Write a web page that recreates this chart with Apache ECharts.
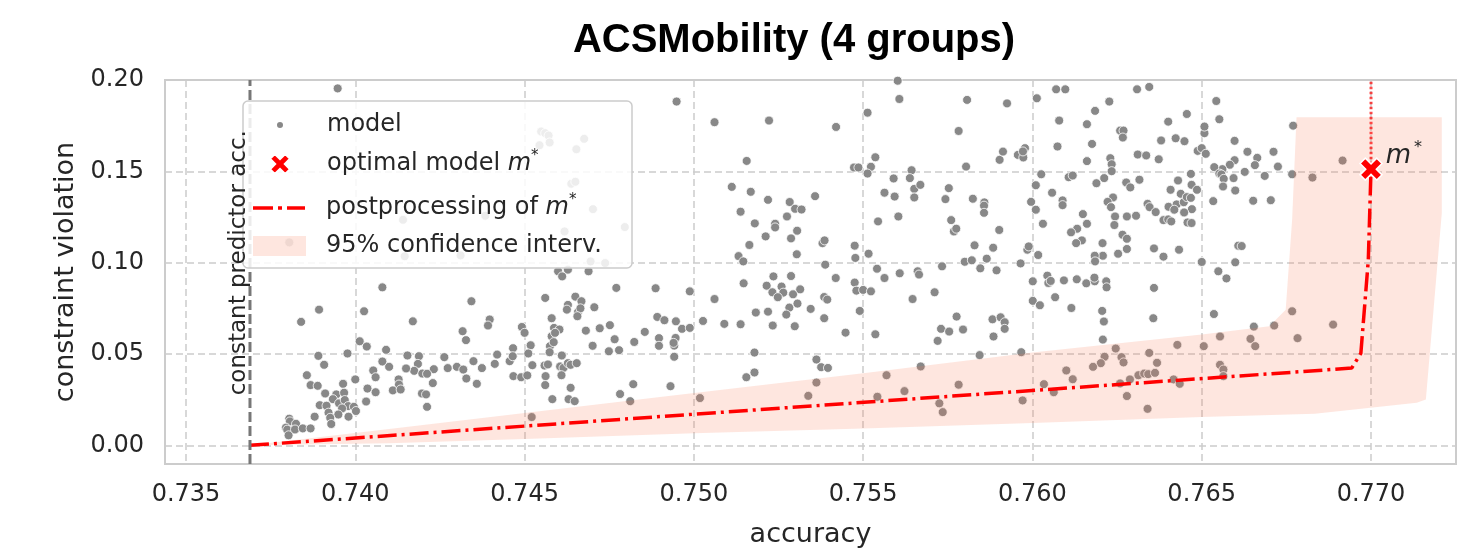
<!DOCTYPE html>
<html><head><meta charset="utf-8">
<script src="https://cdn.jsdelivr.net/npm/echarts@6/dist/echarts.min.js"></script>
<style>html,body{margin:0;padding:0;background:#fff}#c{width:1481px;height:549px}</style>
</head><body><div id="c"></div><script>
// ---------- data ----------
const titleText = 'ACSMobility (4 groups)';
const xName = 'accuracy';
const yName = 'constraint violation';
const xMin = 0.73438, xMax = 0.77251, yMin = -0.0102, yMax = 0.2;
const xTickStep = 0.005, yTickStep = 0.05;

// scattered models: [accuracy, constraint violation]
const modelPoints = [
[0.73948,0.1954],[0.74141,0.1235],[0.73805,0.1111],[0.74146,0.1035],
[0.74080,0.0865],[0.73893,0.0743],[0.74026,0.0734],[0.73840,0.0676],[0.74170,0.0679],[0.74013,0.0570],[0.74034,0.0541],[0.74091,0.0523],[0.73891,0.0490],[0.73977,0.0503],[0.74154,0.0492],[0.74188,0.0488],[0.74080,0.0459],[0.73908,0.0441],[0.74100,0.0430],[0.74185,0.0446],[0.74174,0.0408],[0.74150,0.0421],[0.74198,0.0393],[0.74053,0.0410],[0.73857,0.0384],[0.73868,0.0330],[0.73889,0.0326],[0.74060,0.0373],[0.74128,0.0361],[0.74129,0.0333],[0.74000,0.0361],[0.73964,0.0337],[0.74036,0.0311],[0.74060,0.0291],[0.74111,0.0301],[0.74134,0.0306],[0.74197,0.0284],[0.73911,0.0284],[0.73944,0.0279],[0.73967,0.0288],[0.73934,0.0253],[0.73952,0.0230],[0.73969,0.0248],[0.73895,0.0220],[0.73915,0.0217],[0.73979,0.0215],[0.73996,0.0211],[0.74032,0.0240],[0.74002,0.0188],[0.73961,0.0202],[0.73880,0.0157],[0.73921,0.0179],[0.73950,0.0169],[0.73980,0.0157],[0.73926,0.0151],[0.73929,0.0117],[0.73805,0.0146],[0.73807,0.0131],[0.73795,0.0097],[0.73799,0.0086],[0.73803,0.0055],[0.73825,0.0118],[0.73822,0.0087],[0.73845,0.0093],[0.73868,0.0093],
[0.74949,0.1882],[0.74549,0.1718],[0.74561,0.1709],[0.74571,0.1696],[0.74574,0.1658],[0.74544,0.1643],[0.74676,0.1678],[0.74653,0.1621],[0.74638,0.1432],[0.74650,0.1443],[0.74702,0.1293],[0.74796,0.1195],[0.74311,0.1040],[0.74384,0.1257],[0.74618,0.1171],
[0.74599,0.0953],[0.74628,0.0962],[0.74611,0.0925],[0.74689,0.0953],[0.74738,0.0998],[0.74695,0.1007],[0.74771,0.0862],[0.74887,0.0860],[0.74343,0.0789],[0.74561,0.0807],[0.74650,0.0814],[0.74668,0.0789],[0.74628,0.0769],[0.74625,0.0743],[0.74658,0.0730],[0.74665,0.0750],[0.74656,0.0707],[0.74706,0.0756],[0.74397,0.0689],[0.74392,0.0656],[0.74580,0.0696],[0.74587,0.0643],[0.74603,0.0634],[0.74580,0.0597],[0.74590,0.0616],[0.74575,0.0543],[0.74586,0.0565],[0.74574,0.0510],[0.74492,0.0648],[0.74500,0.0616],[0.74518,0.0548],[0.74511,0.0503],[0.74523,0.0439],[0.74317,0.0625],[0.74327,0.0576],[0.74681,0.0628],[0.74722,0.0641],[0.74752,0.0658],[0.74701,0.0545],[0.74766,0.0581],[0.74749,0.0515],[0.74779,0.0521],[0.74824,0.0566],[0.74855,0.0621],[0.74892,0.0703],[0.74913,0.0685],[0.74947,0.0679],[0.74965,0.0638],[0.74946,0.0588],[0.74897,0.0587],[0.74897,0.0545],[0.74942,0.0546],[0.74940,0.0561],[0.74942,0.0485],[0.74466,0.0532],[0.74456,0.0461],[0.74465,0.0488],[0.74419,0.0497],[0.74412,0.0446],[0.74263,0.0483],[0.74273,0.0423],[0.74300,0.0430],[0.74319,0.0415],[0.74349,0.0461],[0.74374,0.0423],[0.74232,0.0417],[0.74212,0.0392],[0.74229,0.0341],[0.74328,0.0366],[0.74359,0.0337],[0.74209,0.0279],[0.74212,0.0211],[0.74610,0.0492],[0.74605,0.0432],[0.74615,0.0424],[0.74628,0.0450],[0.74636,0.0441],[0.74654,0.0450],[0.74559,0.0437],[0.74569,0.0443],[0.74562,0.0379],[0.74561,0.0330],[0.74609,0.0384],[0.74467,0.0379],[0.74490,0.0373],[0.74508,0.0383],[0.74636,0.0315],[0.74582,0.0253],[0.74630,0.0253],[0.74648,0.0242],[0.74782,0.0281],[0.74821,0.0335],[0.74812,0.0242],[0.74931,0.0324],[0.74521,0.0155],
[0.75061,0.1769],[0.75222,0.1778],[0.75420,0.1743],[0.75513,0.1821],[0.75607,0.1896],[0.75602,0.1996],[0.75156,0.1557],[0.75473,0.1521],[0.75486,0.1521],[0.75523,0.1525],[0.75536,0.1577],[0.75513,0.1488],[0.75643,0.1506],[0.75590,0.1461],[0.75638,0.1463],[0.75651,0.1404],[0.75669,0.1426],[0.75651,0.1357],[0.75563,0.1383],[0.75593,0.1362],[0.75604,0.1253],[0.75544,0.1226],[0.75112,0.1415],[0.75168,0.1388],[0.75219,0.1344],[0.75283,0.1332],[0.75299,0.1295],[0.75318,0.1291],[0.75358,0.1364],[0.75275,0.1253],[0.75138,0.1279],[0.75180,0.1215],[0.75240,0.1213],[0.75240,0.1193],[0.75305,0.1175],[0.75212,0.1144],[0.75287,0.1133],[0.75164,0.1097],[0.75304,0.1046],[0.75380,0.1107],[0.75386,0.1122],[0.75132,0.1036],[0.75146,0.1007],[0.75475,0.1093],[0.75477,0.1026],[0.75516,0.1049],[0.75388,0.0989],[0.75419,0.0916],[0.75541,0.0967],[0.75563,0.0916],[0.75608,0.0942],[0.75661,0.0953],[0.75665,0.0935],[0.75733,0.0980],[0.75711,0.0838],[0.75646,0.0801],[0.74988,0.0843],[0.75061,0.0801],[0.75027,0.0681],[0.74988,0.0643],[0.75090,0.0665],[0.75138,0.0663],[0.75183,0.0727],[0.75147,0.0887],[0.75215,0.0874],[0.75235,0.0925],[0.75232,0.0838],[0.75259,0.0869],[0.75264,0.0836],[0.75248,0.0811],[0.75287,0.0927],[0.75293,0.0827],[0.75314,0.0854],[0.75282,0.0754],[0.75306,0.0776],[0.75273,0.0716],[0.75219,0.0732],[0.75233,0.0656],[0.75298,0.0652],[0.75345,0.0747],[0.75385,0.0812],[0.75394,0.0798],[0.75385,0.0696],[0.75475,0.0891],[0.75480,0.0847],[0.75500,0.0851],[0.75523,0.0843],[0.75490,0.0736],[0.75448,0.0617],[0.75536,0.0608],[0.75720,0.0572],[0.75730,0.0638],[0.75179,0.0508],[0.75155,0.0373],[0.75179,0.0399],[0.75362,0.0470],[0.75376,0.0428],[0.75396,0.0424],[0.75362,0.0344],[0.75338,0.0271],[0.75018,0.0259],[0.75569,0.0384],[0.75542,0.0266],[0.75622,0.0297],[0.75670,0.0432],[0.75725,0.0230],[0.75735,0.0182],
[0.75807,0.1891],[0.75925,0.1872],[0.75782,0.1721],[0.75804,0.1526],[0.76013,0.1900],[0.76070,0.1949],[0.76097,0.1949],[0.76079,0.1778],[0.76185,0.1831],[0.76227,0.1882],[0.76161,0.1758],[0.76176,0.1650],[0.76074,0.1636],[0.76161,0.1556],[0.76230,0.1572],[0.76234,0.1539],[0.76259,0.1723],[0.76269,0.1723],[0.76267,0.1685],[0.76234,0.1501],[0.76309,0.1949],[0.76345,0.1962],[0.76456,0.1814],[0.76401,0.1772],[0.76423,0.1681],[0.76449,0.1665],[0.76380,0.1669],[0.76311,0.1592],[0.76336,0.1587],[0.76373,0.1566],[0.76488,0.1612],[0.76500,0.1627],[0.76508,0.1709],[0.76508,0.1745],[0.75903,0.1563],[0.75913,0.1608],[0.75957,0.1590],[0.75973,0.1576],[0.75978,0.1627],[0.75972,0.1609],[0.76026,0.1484],[0.76010,0.1424],[0.76107,0.1468],[0.76119,0.1477],[0.76189,0.1435],[0.76212,0.1463],[0.76058,0.1383],[0.76089,0.1341],[0.76089,0.1315],[0.75996,0.1333],[0.76010,0.1290],[0.76031,0.1213],[0.76277,0.1439],[0.76289,0.1412],[0.76316,0.1454],[0.76238,0.1357],[0.76222,0.1333],[0.76232,0.1304],[0.76244,0.1253],[0.76242,0.1206],[0.76279,0.1253],[0.76306,0.1257],[0.76266,0.1153],[0.76279,0.1131],[0.76279,0.1075],[0.76253,0.1049],[0.76207,0.1107],[0.76208,0.1038],[0.76184,0.1038],[0.76185,0.1007],[0.76149,0.1266],[0.76161,0.1213],[0.76132,0.1186],[0.76114,0.1166],[0.76146,0.1122],[0.76129,0.1107],[0.76340,0.1322],[0.76346,0.1304],[0.76364,0.1277],[0.76387,0.1233],[0.76401,0.1237],[0.76410,0.1226],[0.76402,0.1306],[0.76408,0.1399],[0.76426,0.1319],[0.76419,0.1290],[0.76430,0.1450],[0.76438,0.1377],[0.76447,0.1331],[0.76456,0.1359],[0.76468,0.1355],[0.76470,0.1426],[0.76468,0.1486],[0.76471,0.1293],[0.76448,0.1275],[0.76458,0.1220],[0.76470,0.1217],[0.76486,0.1399],[0.76359,0.1078],[0.76387,0.1033],[0.76433,0.1071],[0.76500,0.1004],[0.75753,0.1408],[0.75743,0.1348],[0.75824,0.1350],[0.75858,0.1330],[0.75857,0.1312],[0.75857,0.1273],[0.75760,0.1233],[0.75768,0.1171],[0.75775,0.1186],[0.75902,0.1179],[0.75829,0.1095],[0.75884,0.1082],[0.75865,0.1022],[0.75985,0.1071],[0.75989,0.1089],[0.76017,0.1042],[0.75965,0.0996],[0.75800,0.1005],[0.75821,0.1013],[0.75846,0.0969],[0.75894,0.0958],[0.76001,0.0898],[0.76044,0.0929],[0.76047,0.0889],[0.76054,0.0900],[0.76093,0.0903],[0.76131,0.0909],[0.76159,0.0887],[0.76184,0.0898],[0.76183,0.0918],[0.76218,0.0898],[0.76219,0.0865],[0.76359,0.0862],[0.76067,0.0811],[0.76001,0.0791],[0.76022,0.0767],[0.76115,0.0752],[0.76206,0.0736],[0.76211,0.0678],[0.76208,0.0579],[0.76357,0.0696],[0.75776,0.0705],[0.75754,0.0623],[0.75795,0.0634],[0.75882,0.0690],[0.75906,0.0701],[0.75918,0.0674],[0.75918,0.0638],[0.75885,0.0596],[0.75844,0.0494],[0.75967,0.0510],[0.76246,0.0530],[0.76213,0.0485],[0.76263,0.0483],[0.76269,0.0454],[0.76202,0.0450],[0.76179,0.0430],[0.76100,0.0410],[0.76119,0.0362],[0.76034,0.0335],[0.76063,0.0291],[0.75971,0.0246],[0.75782,0.0332],[0.76259,0.0339],[0.76288,0.0361],[0.76313,0.0384],[0.76330,0.0393],[0.76342,0.0390],[0.76362,0.0397],[0.76368,0.0452],[0.76345,0.0506],[0.76279,0.0270],[0.76340,0.0200],[0.76417,0.0361],[0.76435,0.0337],[0.76428,0.0550],[0.76506,0.0543],
[0.76512,0.1596],[0.76543,0.1885],[0.76552,0.1785],[0.76597,0.1667],[0.76635,0.1607],[0.76664,0.1574],[0.76712,0.1607],[0.76597,0.1561],[0.76583,0.1536],[0.76561,0.1512],[0.76537,0.1523],[0.76552,0.1488],[0.76558,0.1483],[0.76565,0.1459],[0.76594,0.1463],[0.76627,0.1497],[0.76657,0.1534],[0.76725,0.1526],[0.76686,0.1475],[0.76767,0.1484],[0.76770,0.1750],[0.76827,0.1466],[0.76916,0.1559],[0.76563,0.1417],[0.76599,0.1395],[0.76534,0.1337],[0.76652,0.1339],[0.76704,0.1342],[0.76608,0.1093],[0.76618,0.1091],[0.76599,0.1002],[0.76549,0.0953],[0.76573,0.0914],[0.76536,0.0719],[0.76767,0.0734],[0.76714,0.0656],[0.76654,0.0650],[0.76888,0.0661],[0.76554,0.0596],[0.76644,0.0583],[0.76658,0.0543],[0.76783,0.0587],[0.76554,0.0441],[0.76564,0.0415],[0.76564,0.0379]
];

// postprocessing curve of m*
const postAccuracy  = [0.73689, 0.76943, 0.76970, 0.76992, 0.77000];
const postViolation = [0.0000,  0.0423,  0.0504,  0.1014,  0.1512];
// optimal model m*
const mStar = [0.77000, 0.1512];
// 95% confidence region boundary (polygon, clockwise)
const ciAccuracy  = [0.73689,0.7410,0.7450,0.7490,0.7550,0.7600,0.7650,0.7670,0.76748,0.76767,0.76780,0.77209,0.77209,0.77162,0.77135,0.76834,0.7650,0.7600,0.7550,0.7500,0.7450,0.7410];
const ciViolation = [0.0000, 0.0090,0.0177,0.0265,0.0395,0.0508,0.0607,0.0652,0.0743, 0.1235, 0.1796, 0.1796, 0.1271, 0.0251, 0.0233, 0.0173, 0.0155,0.0122,0.0093,0.0066,0.0035,0.0012];
// constant predictor accuracy
const constAcc = 0.73689;
const constLabelViol = 0.100;

// ---------- styles ----------
const FONT = 'DejaVu Sans';
const TXT = '#262626';
const bandColor = 'rgba(248,120,85,0.19)';
const xPath = 'path://M2.4,0 L5,2.6 L7.6,0 L10,2.4 L7.4,5 L10,7.6 L7.6,10 L5,7.4 L2.4,10 L0,7.6 L2.6,5 L0,2.4 Z';
const dashDotPath = 'path://M0,0 H20 V3.5 H0 Z M25,0 H29 V3.5 H25 Z M34,0 H52 V3.5 H34 Z';
const onTick = (v, s) => Math.abs(v / s - Math.round(v / s)) < 1e-6;

const postLine = postAccuracy.map((a, i) => [a, postViolation[i]]);
const ciBoundary = ciAccuracy.map((a, i) => [a, ciViolation[i]]);

const chart = echarts.init(document.getElementById('c'), null, {renderer: 'canvas'});

function legendFor(name, left, top, w, h, gap, icon) {
  const d = {name: name};
  if (icon) d.icon = icon;
  return {
    data: [d], left: left, top: top, itemWidth: w, itemHeight: h, padding: 0,
    selectedMode: false, z: 20, orient: 'vertical',
    formatter: n => {
      if (n === 'optimal model') return '{g|}{t|optimal model }{m|m}{s|*}';
      if (n === 'postprocessing') return '{g|}{t|postprocessing of }{m|m}{s|*}';
      return '{g|}{t|' + n + '}';
    },
    textStyle: {
      lineHeight: 30,
      rich: {
        g: {width: gap},
        t: {fontSize: 24, fontFamily: FONT, color: TXT, lineHeight: 30},
        m: {fontSize: 24, fontFamily: FONT, color: TXT, fontStyle: 'italic', lineHeight: 30},
        s: {fontSize: 15, fontFamily: FONT, color: TXT, verticalAlign: 'top', lineHeight: 30}
      }
    }
  };
}

const option = {
  animation: false,
  backgroundColor: '#ffffff',
  title: {
    text: titleText, left: 789, top: 16, textAlign: 'center',
    textStyle: {fontFamily: 'Liberation Sans', fontWeight: 'bold', fontSize: 40, color: '#000'}
  },
  grid: {left: 165, right: 25, top: 80, bottom: 85, show: true, borderColor: '#cccccc', borderWidth: 2,
         backgroundColor: 'transparent', containLabel: false, outerBoundsMode: 'none'},
  xAxis: {
    type: 'value', min: xMin, max: xMax, splitNumber: 8,
    axisLine: {show: false}, axisTick: {show: false},
    axisLabel: {margin: 19, fontSize: 24, fontFamily: FONT, color: TXT,
      formatter: v => onTick(v, xTickStep) ? v.toFixed(3) : ''},
    splitLine: {show: true, lineStyle: {color: '#cccccc', width: 1.5, type: [7, 4]}},
    name: xName, nameLocation: 'middle', nameGap: 57,
    nameTextStyle: {fontSize: 27, fontFamily: FONT, color: TXT}
  },
  yAxis: {
    type: 'value', min: yMin, max: yMax, splitNumber: 4,
    axisLine: {show: false}, axisTick: {show: false},
    axisLabel: {margin: 21, fontSize: 24, fontFamily: FONT, color: TXT,
      formatter: v => onTick(v, yTickStep) ? v.toFixed(2) : ''},
    splitLine: {show: true, lineStyle: {color: '#cccccc', width: 1.5, type: [7, 4]}},
    name: yName, nameLocation: 'middle', nameGap: 86, nameRotate: 90,
    nameTextStyle: {fontSize: 27, fontFamily: FONT, color: TXT}
  },
  legend: [
    legendFor('model', 275, 110, 8, 8, 38, 'circle'),
    legendFor('optimal model', 269, 149, 20, 20, 32, xPath),
    legendFor('postprocessing', 253, 193, 52, 3.5, 16, dashDotPath),
    legendFor('95% confidence interv.', 253, 231, 53, 20, 15, 'rect')
  ],
  graphic: [{
    type: 'rect', z: 10, silent: true,
    shape: {x: 243, y: 101, width: 389, height: 167, r: 5},
    style: {fill: 'rgba(255,255,255,0.85)', stroke: '#cccccc', lineWidth: 1.5}
  }],
  series: [
    {
      name: 'model', type: 'scatter', data: modelPoints, symbolSize: 9, z: 2,
      itemStyle: {color: '#888888', borderColor: '#ffffff', borderWidth: 0.8, opacity: 1}
    },
    {
      name: '95% confidence interv.', type: 'custom', coordinateSystem: 'cartesian2d',
      data: [ciBoundary[0]], z: 3, silent: true,
      itemStyle: {color: bandColor},
      renderItem: (params, api) => ({
        type: 'polygon',
        shape: {points: ciBoundary.map(p => api.coord(p))},
        style: {fill: bandColor}
      })
    },
    {
      name: 'postprocessing', type: 'line', data: postLine, symbol: 'none', z: 4,
      lineStyle: {color: '#ff0000', width: 3.5, type: [19, 5, 3, 5]},
      itemStyle: {color: '#ff0000'}
    },
    {
      name: 'postprocessing ext', type: 'line', data: [mStar, [mStar[0], yMax]], symbol: 'none', z: 4,
      lineStyle: {color: 'rgba(255,0,0,0.7)', width: 3, type: [2.5, 2.5]}
    },
    {
      name: 'constant predictor', type: 'custom', coordinateSystem: 'cartesian2d',
      data: [[constAcc, 0]], z: 5, silent: true,
      renderItem: (params, api) => {
        const p0 = api.coord([constAcc, yMin]);
        const p1 = api.coord([constAcc, yMax]);
        return {type: 'line', shape: {x1: p0[0], y1: p0[1], x2: p1[0], y2: p1[1]},
                style: {stroke: '#777777', lineWidth: 3, lineDash: [10, 4]}};
      }
    },
    {
      name: 'constant predictor label', type: 'custom', coordinateSystem: 'cartesian2d',
      data: [[constAcc, constLabelViol]], z: 30, silent: true,
      renderItem: (params, api) => {
        const pt = api.coord([constAcc, constLabelViol]);
        return {type: 'text', x: pt[0] - 11, y: pt[1], rotation: Math.PI / 2, z2: 100,
                style: {text: 'constant predictor acc.', fill: TXT, fontSize: 23, fontFamily: FONT,
                        align: 'center', verticalAlign: 'middle'}};
      }
    },
    {
      name: 'optimal model', type: 'scatter', data: [mStar], symbol: xPath, symbolSize: 22, z: 6,
      itemStyle: {color: '#ff0000', borderColor: '#ffffff', borderWidth: 1.5, opacity: 1},
      label: {
        show: true, position: 'right', distance: 3, offset: [0, -13],
        formatter: '{m|m}{s|*}',
        rich: {
          m: {fontSize: 26, fontFamily: FONT, fontStyle: 'italic', color: TXT, lineHeight: 32},
          s: {fontSize: 16, fontFamily: FONT, color: TXT, verticalAlign: 'top', lineHeight: 32, padding: [0, 0, 0, 3]}
        }
      }
    }
  ]
};
chart.setOption(option);
</script></body></html>
